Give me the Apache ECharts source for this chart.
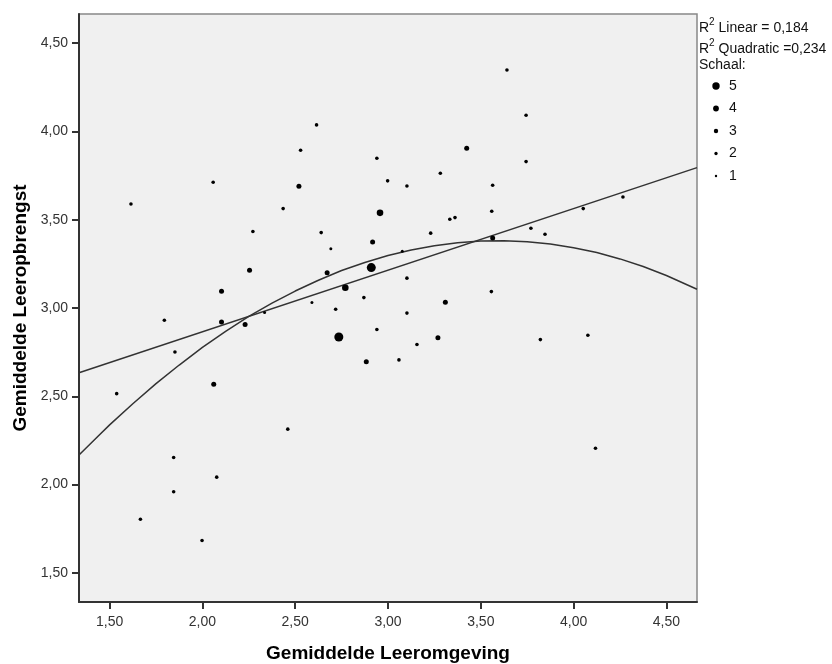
<!DOCTYPE html>
<html>
<head>
<meta charset="utf-8">
<script src="https://cdn.jsdelivr.net/npm/echarts@6/dist/echarts.min.js"></script>
<style>html,body{margin:0;padding:0;background:#fff}#c{width:832px;height:664px}</style>
</head>
<body>
<div id="c"></div>
<script>
// ---- data ----
var leeromgeving = [1.615,1.538,1.795,1.852,1.845,1.845,1.666,1.998,2.077,2.061,2.058,2.103,2.103,2.230,2.254,2.272,2.335,2.435,2.460,2.529,2.520,2.615,2.640,2.590,2.692,2.672,2.718,2.735,2.770,2.870,2.883,2.910,2.917,2.957,2.940,2.940,2.998,3.059,3.077,3.102,3.102,3.102,3.156,3.230,3.269,3.282,3.309,3.333,3.361,3.424,3.564,3.559,3.564,3.557,3.641,3.744,3.744,3.770,3.846,3.821,4.052,4.077,4.118,4.266];
var leeropbrengst = [3.589,2.515,2.931,2.751,2.153,1.959,1.804,1.683,2.042,2.568,3.712,3.095,2.921,2.906,3.214,3.433,2.974,3.563,2.314,3.893,3.690,4.037,3.427,3.031,3.335,3.200,2.993,2.836,3.115,3.059,2.695,3.229,3.374,3.539,3.848,2.878,3.720,2.706,3.322,3.691,3.169,2.971,2.793,3.424,2.831,3.763,3.033,3.503,3.512,3.905,3.695,3.548,3.397,3.093,4.348,4.092,3.829,3.452,3.418,2.821,3.563,2.846,2.206,3.629];
var schaal = [2,2,2,2,2,2,2,2,2,3,2,3,3,3,3,2,1,2,2,2,3,2,2,1,1,3,2,5,4,2,3,5,3,4,2,2,2,2,1,2,2,2,2,2,3,2,3,2,2,3,2,2,3,2,2,2,2,2,2,2,2,2,2,2];

// fit lines
var linearX = [1.335, 4.665];
var linearY = [2.633, 3.795];
var quadX = [1.335,1.4375,1.5,1.625,1.75,1.875,2.0,2.125,2.25,2.375,2.5,2.625,2.75,2.875,3.0,3.125,3.25,3.375,3.5,3.625,3.75,3.875,4.0,4.125,4.25,4.375,4.5,4.665];
var quadY = [2.167,2.274,2.338,2.458,2.572,2.677,2.777,2.868,2.952,3.028,3.096,3.157,3.212,3.258,3.297,3.328,3.353,3.370,3.379,3.381,3.375,3.362,3.341,3.314,3.278,3.235,3.184,3.106];

var tickValues = [1.5,2.0,2.5,3.0,3.5,4.0,4.5];
var legendSchaal = [5,4,3,2,1];
var r2Linear = '0,184';
var r2Quadratic = '0,234';

// ---- styling helpers ----
var SIZE = {1:3, 2:3.6, 3:5, 4:6.6, 5:9};
var LEGEND_SIZE = {1:2.4, 2:3.3, 3:4.4, 4:5.8, 5:7.4};
function fmt(v){ return v.toFixed(2).replace('.', ','); }

var points = leeromgeving.map(function(x,i){ return [x, leeropbrengst[i], schaal[i]]; });
var lin = linearX.map(function(x,i){ return [x, linearY[i]]; });
var quad = quadX.map(function(x,i){ return [x, quadY[i]]; });

var FONT = 'Liberation Sans, Arial, sans-serif';

function axis(name, gap, labelMargin){
  return {
    type: 'value', min: 1.335, max: 4.665,
    name: name, nameLocation: 'middle', nameGap: gap,
    nameTextStyle: {fontFamily: FONT, fontWeight: 'bold', fontSize: 19, color: '#000'},
    axisLine: {show: true, onZero: false, lineStyle: {color: '#333', width: 2}},
    axisTick: {show: true, customValues: tickValues, length: 7, lineStyle: {color: '#333', width: 2}},
    axisLabel: {customValues: tickValues, formatter: fmt, fontFamily: FONT, fontSize: 14, color: '#333', margin: labelMargin},
    splitLine: {show: false}
  };
}

var graphics = [
  {type:'text', left: 699, top: 17, style: {
    text: '{a|R}{s|2}{a| Linear = ' + r2Linear + '}',
    rich: {a:{fontFamily: FONT, fontSize: 14, fill:'#111', lineHeight:18, verticalAlign:'bottom'}, s:{fontFamily: FONT, fontSize: 10, fill:'#111', lineHeight:18, verticalAlign:'top'}}
  }},
  {type:'text', left: 699, top: 38, style: {
    text: '{a|R}{s|2}{a| Quadratic =' + r2Quadratic + '}',
    rich: {a:{fontFamily: FONT, fontSize: 14, fill:'#111', lineHeight:18, verticalAlign:'bottom'}, s:{fontFamily: FONT, fontSize: 10, fill:'#111', lineHeight:18, verticalAlign:'top'}}
  }},
  {type:'text', left: 699, top: 58, style: {text: 'Schaal:', fontFamily: FONT, fontSize: 14, fill: '#111'}}
];
var legendY = [86, 108.5, 131, 153.5, 176];
legendSchaal.forEach(function(s, i){
  graphics.push({type:'circle', shape:{cx:716, cy:legendY[i], r: LEGEND_SIZE[s]/2}, style:{fill:'#000'}});
  graphics.push({type:'text', x: 729, y: legendY[i], style:{text: String(s), fontFamily: FONT, fontSize: 14, fill:'#111', verticalAlign:'middle'}});
});

var chart = echarts.init(document.getElementById('c'), null, {renderer: 'canvas'});
chart.setOption({
  animation: false,
  backgroundColor: '#fff',
  grid: {left: 79, right: 135, top: 14, bottom: 62, show: true, backgroundColor: '#f0f0f0', borderColor: '#888', borderWidth: 1.5, outerBoundsMode: 'none', containLabel: false},
  xAxis: axis('Gemiddelde Leeromgeving', 42, 13),
  yAxis: axis('Gemiddelde Leeropbrengst', 48, 11),
  graphic: graphics,
  series: [
    {type:'line', data: lin, showSymbol:false, silent:true, lineStyle:{color:'#333', width:1.5}, z: 3},
    {type:'line', data: quad, showSymbol:false, smooth:false, silent:true, lineStyle:{color:'#333', width:1.5}, z: 3},
    {type:'scatter', data: points, symbol:'circle', symbolSize: function(v){ return SIZE[v[2]]; }, itemStyle:{color:'#000', opacity:1}, z: 4}
  ]
});
</script>
</body>
</html>
